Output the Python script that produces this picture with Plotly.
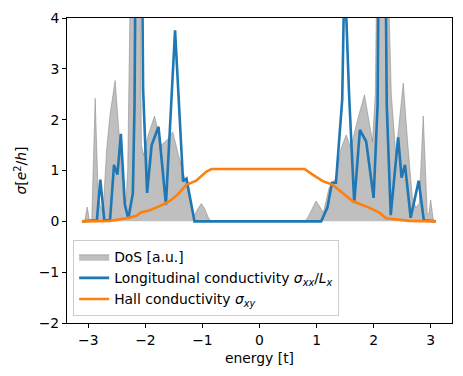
import plotly.graph_objects as go

# Density of states (arbitrary units)
dos_energy = [-3.11, -3.06, -3.02, -2.98, -2.94, -2.88, -2.83, -2.79, -2.74, -2.68, -2.62, -2.53,
              -2.45, -2.39, -2.34, -2.31, -2.27, -2.17, -2.09, -2.07, -2.03, -1.95, -1.84, -1.72,
              -1.62, -1.52, -1.42, -1.31, -1.19, -1.14, -1.08, -1.02, -0.96, -0.90, -0.85,
              0.79, 0.85, 0.92, 0.99, 1.05, 1.12, 1.22, 1.34, 1.43, 1.52, 1.60, 1.72, 1.84,
              1.92, 1.98, 2.03, 2.06, 2.15, 2.27, 2.31, 2.39, 2.52, 2.60, 2.68, 2.74, 2.80,
              2.87, 2.94, 2.97, 3.00, 3.05]
dos_value = [0.0, 0.02, 0.28, 0.02, 0.03, 2.42, 0.6, 0.3, 0.22, 1.4, 2.1, 2.77,
             1.55, 0.5, 0.4, 1.0, 4.2, 14.0, 4.2, 1.5, 1.3, 1.7, 2.07, 1.5,
             1.6, 1.76, 1.3, 0.85, 0.27, 0.12, 0.25, 0.35, 0.25, 0.08, 0.0,
             0.0, 0.08, 0.25, 0.4, 0.3, 0.17, 0.66, 0.85, 1.44, 1.7, 1.44, 2.0, 2.49,
             1.96, 1.57, 2.5, 4.2, 14.0, 4.2, 2.5, 1.3, 2.72, 1.5, 0.46, 0.27, 0.35,
             2.07, 0.14, 0.15, 0.42, 0.0]

# Longitudinal conductivity sigma_xx / L_x
sxx_energy = [-3.11, -2.85, -2.79, -2.72, -2.62, -2.55, -2.49, -2.43, -2.36, -2.30, -2.22, -2.19,
              -2.12, -2.04, -1.97, -1.89, -1.77, -1.64, -1.48, -1.34, -1.28, -1.14,
              1.08, 1.19, 1.27, 1.34, 1.45, 1.49, 1.57, 1.66, 1.76, 1.87, 2.00, 2.07,
              2.145, 2.23, 2.30, 2.43, 2.49, 2.55, 2.65, 2.79, 2.88, 3.09]
sxx_value = [0.0, 0.02, 0.82, 0.02, 0.02, 1.11, 0.92, 1.72, 0.33, 0.05, 0.55, 2.3,
             14.0, 2.6, 0.56, 1.5, 1.86, 0.33, 3.76, 0.79, 0.84, 0.0,
             0.0, 0.27, 0.76, 0.76, 2.4, 5.0, 2.5, 0.36, 1.8, 1.57, 0.46, 2.3,
             14.0, 2.3, 0.12, 1.65, 0.86, 1.11, 0.07, 0.8, 0.02, 0.0]

# Hall conductivity sigma_xy
sxy_energy = [-3.11, -2.62, -2.33, -2.16, -2.07, -1.92, -1.75, -1.57, -1.43, -1.28, -1.11, -0.93,
              -0.84, 0.79, 0.93, 1.11, 1.28, 1.46, 1.63, 1.92, 2.10, 2.22, 2.62, 3.09]
sxy_value = [0.0, 0.01, 0.06, 0.11, 0.18, 0.22, 0.30, 0.40, 0.53, 0.72, 0.80, 0.98,
             1.03, 1.03, 0.92, 0.79, 0.72, 0.56, 0.40, 0.27, 0.17, 0.06, 0.01, 0.0]

FONT = "DejaVu Sans"
FS = 13.9

fig = go.Figure()
fig.add_trace(go.Scatter(
    x=dos_energy, y=dos_value, mode="lines", fill="tozeroy",
    fillcolor="rgba(128,128,128,0.5)",
    line=dict(color="rgba(128,128,128,0.5)", width=1),
    name="DoS [a.u.]"))
fig.add_trace(go.Scatter(
    x=sxx_energy, y=sxx_value, mode="lines",
    line=dict(color="#1f77b4", width=2.6),
    name="Longitudinal conductivity <i>σ<sub>xx</sub></i>/<i>L<sub>x</sub></i>"))
fig.add_trace(go.Scatter(
    x=sxy_energy, y=sxy_value, mode="lines",
    line=dict(color="#ff7f0e", width=2.6),
    name="Hall conductivity <i>σ<sub>xy</sub></i>"))

axis_common = dict(showline=True, linecolor="black", linewidth=1, mirror=True,
                   ticks="outside", ticklen=4, tickwidth=1, tickcolor="black",
                   showgrid=False, zeroline=False,
                   tickfont=dict(family=FONT, size=FS, color="black"))

fig.update_xaxes(range=[-3.374, 3.374], tickmode="array", tickvals=[-3, -2, -1, 0, 1, 2, 3],
                 title=dict(text="energy [t]", font=dict(family=FONT, size=FS, color="black"),
                            standoff=6),
                 **axis_common)
fig.update_yaxes(range=[-2, 4], tickmode="array", tickvals=[-2, -1, 0, 1, 2, 3, 4],
                 title=dict(text="<i>σ</i>[<i>e</i><sup>2</sup>/<i>h</i>]",
                            font=dict(family=FONT, size=FS, color="black"), standoff=8),
                 **axis_common)

fig.update_layout(
    width=463, height=376,
    margin=dict(l=67, r=10, t=15, b=53),
    plot_bgcolor="white", paper_bgcolor="white",
    font=dict(family=FONT, size=FS, color="black"),
    showlegend=True,
    legend=dict(x=0.016, y=0.022, xanchor="left", yanchor="bottom",
                bgcolor="rgba(255,255,255,0.8)", bordercolor="#cccccc", borderwidth=1,
                font=dict(family=FONT, size=FS, color="black")),
)

fig.write_html("out.html")
